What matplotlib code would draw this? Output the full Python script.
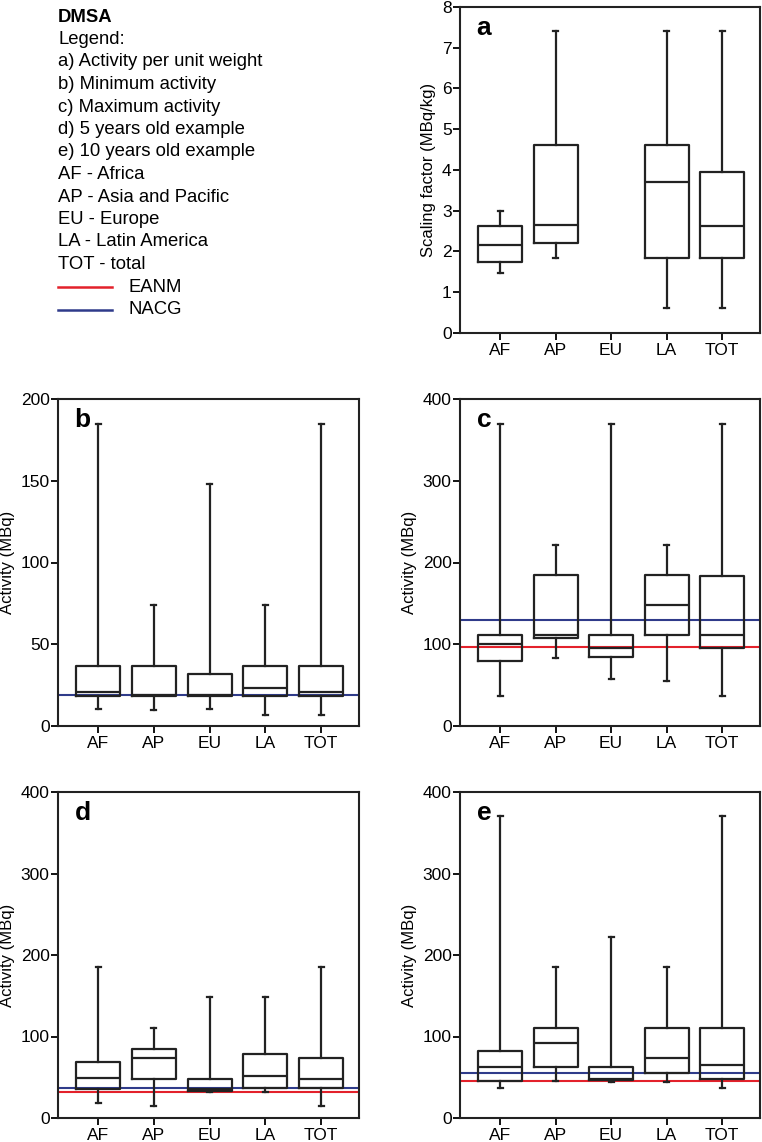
import matplotlib
matplotlib.use("Agg")
import matplotlib.pyplot as plt

plt.rcParams['font.family'] = ['Liberation Sans', 'DejaVu Sans']

regions = ["AF", "AP", "EU", "LA", "TOT"]

# box stats per panel: (low whisker, q1, median, q3, high whisker); None = no data
a_stats = [(1.47, 1.75, 2.17, 2.62, 3.0), (1.84, 2.22, 2.65, 4.62, 7.4), None,
           (0.62, 1.84, 3.7, 4.62, 7.4), (0.62, 1.84, 2.62, 3.94, 7.4)]
b_stats = [(10.5, 18.5, 20.5, 37, 185), (9.5, 18.5, 18.7, 37, 74), (10.5, 18.5, 18.7, 31.5, 148),
           (7, 18.5, 23.5, 37, 74), (7, 18.5, 20.5, 37, 185)]
c_stats = [(37, 80, 100, 111, 370), (83, 108, 111, 185, 222), (58, 85, 95, 111, 370),
           (55, 111, 148, 185, 222), (37, 95, 111, 184, 370)]
d_stats = [(18, 35, 49, 69, 185), (15, 48, 74, 85, 111), (32, 33, 35, 48, 148),
           (32, 37, 52, 78, 148), (15, 37, 48, 74, 185)]
e_stats = [(37, 46, 62, 82, 370), (46, 62, 92, 111, 185), (44, 47, 48, 62, 222),
           (44, 55, 74, 111, 185), (37, 48, 65, 111, 370)]

# reference lines (EANM, NACG); None = not shown
b_ref = (None, 19)
c_ref = (97, 130)
d_ref = (32, 37)
e_ref = (46, 55)

EANM_COLOR = "#e3212b"
NACG_COLOR = "#2f3b8a"

W, H = 762, 1142
fig = plt.figure(figsize=(W / 100, H / 100), dpi=100)


def px_axes(x0, y0, x1, y1):
  return fig.add_axes([x0 / W, 1 - y1 / H, (x1 - x0) / W, (y1 - y0) / H])


def draw_panel(ax, stats, letter, ymax, yticks, ylabel, ref=None):
  positions = range(1, len(regions) + 1)
  bxp_stats = []
  bxp_pos = []
  for p, s in zip(positions, stats):
    if s is None:
      continue
    lo, q1, med, q3, hi = s
    bxp_stats.append(dict(whislo=lo, q1=q1, med=med, q3=q3, whishi=hi, fliers=[]))
    bxp_pos.append(p)
  if ref is not None:
    eanm, nacg = ref
    if nacg is not None:
      ax.axhline(nacg, color=NACG_COLOR, lw=1.5, zorder=1)
    if eanm is not None:
      ax.axhline(eanm, color=EANM_COLOR, lw=1.5, zorder=1)
  line = dict(color="#222222", lw=1.6)
  ax.bxp(bxp_stats, positions=bxp_pos, widths=0.79, showfliers=False,
         boxprops=line, whiskerprops=line, capprops=line,
         medianprops=line, capwidths=0.09, manage_ticks=False, zorder=2)
  ax.set_xlim(0.28, 5.68)
  ax.set_ylim(0, ymax)
  ax.set_yticks(yticks)
  ax.set_xticks(list(positions))
  ax.set_xticklabels(regions)
  ax.tick_params(axis='both', direction='out', length=5, width=1.3, labelsize=12.5, pad=1)
  ax.tick_params(axis='x', pad=2)
  for sp in ax.spines.values():
    sp.set_linewidth(1.5)
    sp.set_color("#222222")
  ax.set_ylabel(ylabel, fontsize=12, labelpad=4)
  ax.text(0.055, 0.935, letter, transform=ax.transAxes, fontsize=19,
          fontweight='bold', va='center', ha='left')


ax_a = px_axes(460, 7, 760, 333)
draw_panel(ax_a, a_stats, "a", 8, range(0, 9), "Scaling factor (MBq/kg)")

ax_b = px_axes(58, 399, 359, 726)
draw_panel(ax_b, b_stats, "b", 200, [0, 50, 100, 150, 200], "Activity (MBq)", b_ref)

ax_c = px_axes(460, 399, 760, 726)
draw_panel(ax_c, c_stats, "c", 400, [0, 100, 200, 300, 400], "Activity (MBq)", c_ref)

ax_d = px_axes(58, 792, 359, 1118)
draw_panel(ax_d, d_stats, "d", 400, [0, 100, 200, 300, 400], "Activity (MBq)", d_ref)

ax_e = px_axes(460, 792, 760, 1118)
draw_panel(ax_e, e_stats, "e", 400, [0, 100, 200, 300, 400], "Activity (MBq)", e_ref)

# legend text block at top left
legend_lines = ["Legend:", "a) Activity per unit weight", "b) Minimum activity",
                "c) Maximum activity", "d) 5 years old example", "e) 10 years old example",
                "AF - Africa", "AP - Asia and Pacific", "EU - Europe",
                "LA - Latin America", "TOT - total"]
x0 = 58 / W
step = 22.5
y = 17
fig.text(x0, 1 - y / H, "DMSA", fontsize=13.3, fontweight='bold', va='center', ha='left')
for t in legend_lines:
  y += step
  fig.text(x0, 1 - y / H, t, fontsize=13.3, va='center', ha='left')
for name, col in [("EANM", EANM_COLOR), ("NACG", NACG_COLOR)]:
  y += step
  fig.add_artist(plt.Line2D([58 / W, 112 / W], [1 - y / H, 1 - y / H], color=col, lw=1.8))
  fig.text(128 / W, 1 - y / H, name, fontsize=13.3, va='center', ha='left')

fig.savefig("out.png", dpi=100)
